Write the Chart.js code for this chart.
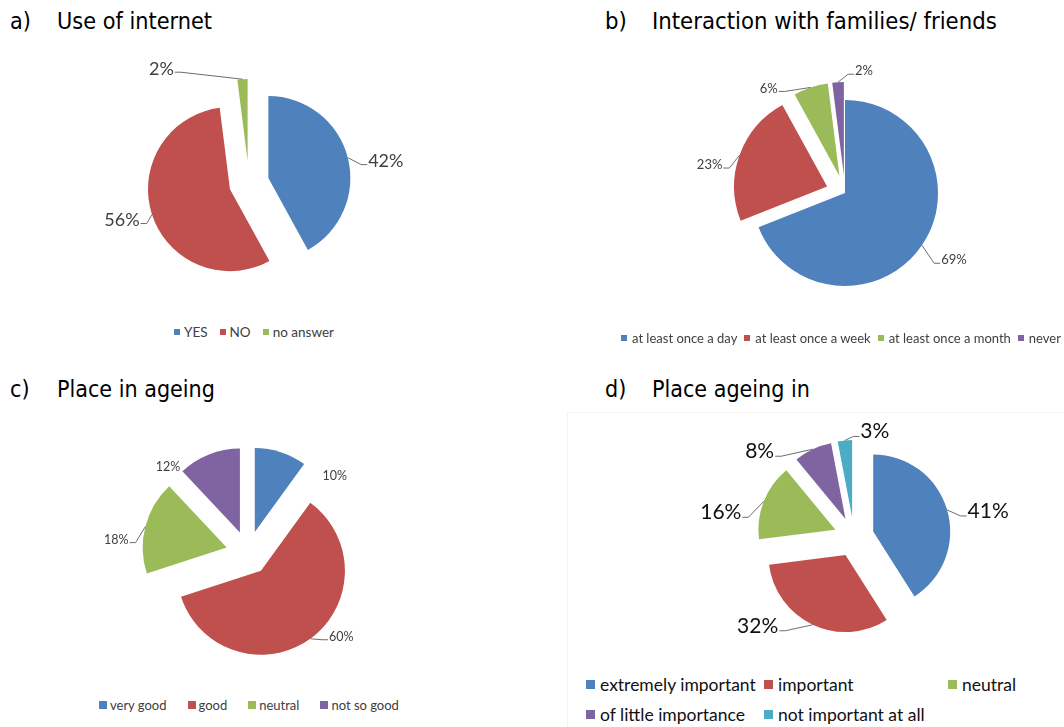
<!DOCTYPE html>
<html>
<head>
<meta charset="utf-8">
<script src="https://cdn.jsdelivr.net/npm/chart.js@4.4.1/dist/chart.umd.min.js"></script>
<style>
  body { margin: 0; background: #fff; }
  #page { position: relative; width: 1064px; height: 727px; overflow: hidden; background: #fff; }
  .title { position: absolute; font-family: "DejaVu Sans Condensed", "DejaVu Sans", sans-serif; font-size: 21px; line-height: 28px; color: #000; white-space: nowrap; }
  .title b { font-weight: normal; position: absolute; left: 0; }
  .title span { position: absolute; left: 47px; }
  .chart { position: absolute; }
  .legend { position: absolute; display: flex; align-items: center; white-space: nowrap; font-family: Lato, sans-serif; color: #404040; }
  .legend .item { display: flex; align-items: center; }
  .legend .sw { display: inline-block; }
  #frame { position: absolute; left: 567px; top: 412px; width: 600px; height: 400px; border: 1px solid #f4f4f4; }
</style>
</head>
<body>
<div id="page">
  <div class="title" data-w="155" style="left:10px;top:6.5px"><b>a)</b><span>Use of internet</span></div>
  <div class="title" data-w="345" style="left:605px;top:6.5px"><b>b)</b><span>Interaction with families/ friends</span></div>
  <div class="title" data-w="158" style="left:10px;top:374.5px"><b>c)</b><span>Place in ageing</span></div>
  <div class="title" data-w="158" style="left:605px;top:374.5px"><b>d)</b><span>Place ageing in</span></div>
  <div id="frame"></div>

  <div class="chart" style="left:49px;top:53px;width:400px;height:260px"><canvas id="pieInternet"></canvas></div>
  <div class="chart" style="left:665px;top:53px;width:360px;height:280px"><canvas id="pieContact"></canvas></div>
  <div class="chart" style="left:48px;top:423px;width:400px;height:260px"><canvas id="pieRating"></canvas></div>
  <div class="chart" style="left:654px;top:407px;width:400px;height:260px"><canvas id="pieImportance"></canvas></div>

  <div class="legend" id="legInternet" style="left:174px;top:324px;height:16px;font-size:13.5px"></div>
  <div class="legend" id="legContact" style="left:621px;top:330px;height:16px;font-size:13px"></div>
  <div class="legend" id="legRating" style="left:99px;top:697px;height:16px;font-size:13px"></div>
  <div class="legend" id="legImportance" style="left:586px;top:674px;font-size:17.5px;color:#111;display:grid;grid-template-columns:178px 184px auto;row-gap:9px"></div>
</div>

<script>
const palette = ['#4F81BD', '#C0504D', '#9BBB59', '#8064A2', '#4BACC6'];

// a) use of internet
const internetLabels = ['YES', 'NO', 'no answer'];
const internetValues = [42, 56, 2];
// b) interaction with families / friends
const contactLabels = ['at least once a day', 'at least once a week', 'at least once a month', 'never'];
const contactValues = [69, 23, 6, 2];
// c) place in ageing
const ratingLabels = ['very good', 'good', 'neutral', 'not so good'];
const ratingValues = [10, 60, 18, 12];
// d) place ageing in
const importanceLabels = ['extremely important', 'important', 'neutral', 'of little importance', 'not important at all'];
const importanceValues = [41, 32, 16, 8, 3];

// headings: scale the font so each line keeps its set width
document.querySelectorAll('.title').forEach(t => {
  const w = t.querySelector('span').getBoundingClientRect().width;
  t.style.fontSize = (21 * (+t.dataset.w) / w) + 'px';
});

// pulls each slice out from the centre along its middle angle
const explodePlugin = {
  id: 'explode',
  beforeDatasetDraw(chart, args, opts) {
    const ctx = chart.ctx;
    const dist = opts.distances || [];
    args.meta.data.forEach((arc, i) => {
      const mid = (arc.startAngle + arc.endAngle) / 2;
      const d = dist[i] || 0;
      ctx.save();
      ctx.translate(Math.cos(mid) * d, Math.sin(mid) * d);
      arc.draw(ctx);
      ctx.restore();
    });
    return false;
  }
};

// percentage labels outside the slices, with small leader lines
const sliceLabelPlugin = {
  id: 'sliceLabels',
  afterDatasetsDraw(chart, args, opts) {
    const ctx = chart.ctx;
    const meta = chart.getDatasetMeta(0);
    const values = chart.data.datasets[0].data;
    const dist = chart.options.plugins.explode.distances || [];
    ctx.save();
    ctx.font = opts.font;
    ctx.textAlign = 'center';
    ctx.textBaseline = 'middle';
    meta.data.forEach((arc, i) => {
      const mid = (arc.startAngle + arc.endAngle) / 2;
      const r = arc.outerRadius + (dist[i] || 0);
      const ax = arc.x + Math.cos(mid) * r;
      const ay = arc.y + Math.sin(mid) * r;
      const [dx, dy] = opts.offsets[i];
      const lx = ax + dx, ly = ay + dy;
      const text = values[i] + '%';
      const w = ctx.measureText(text).width;
      if (opts.leaders[i]) {
        const side = dx > 0 ? -1 : 1;
        const ex = lx + side * (w / 2 + 1);
        const ey = ly + opts.leaderDrop;
        ctx.strokeStyle = opts.lineColor;
        ctx.lineWidth = 1;
        ctx.beginPath();
        ctx.moveTo(ax, ay);
        ctx.lineTo(ex + side * 6, ey);
        ctx.lineTo(ex, ey);
        ctx.stroke();
      }
      ctx.fillStyle = opts.color;
      ctx.fillText(text, lx, ly);
    });
    ctx.restore();
  }
};

function makePie(id, labels, values, cfg) {
  return new Chart(document.getElementById(id), {
    type: 'pie',
    data: {
      labels: labels,
      datasets: [{
        data: values,
        backgroundColor: palette.slice(0, values.length),
        borderWidth: 0,
        radius: cfg.radius
      }]
    },
    options: {
      responsive: true,
      maintainAspectRatio: false,
      animation: false,
      events: [],
      layout: { padding: 0 },
      plugins: {
        legend: { display: false },
        tooltip: { enabled: false },
        explode: { distances: cfg.explode },
        sliceLabels: {
          offsets: cfg.labelPos,
          leaders: cfg.leaders,
          font: cfg.font,
          color: cfg.color || '#404040',
          lineColor: cfg.lineColor || '#6d6d6d',
          leaderDrop: cfg.leaderDrop || 3
        }
      }
    },
    plugins: [explodePlugin, sliceLabelPlugin]
  });
}

function buildLegend(id, labels, box, gap, space) {
  const el = document.getElementById(id);
  labels.forEach((label, i) => {
    const item = document.createElement('span');
    item.className = 'item';
    if (space) item.style.marginRight = space + 'px';
    const sw = document.createElement('span');
    sw.className = 'sw';
    sw.style.width = box + 'px';
    sw.style.height = box + 'px';
    sw.style.background = palette[i];
    sw.style.marginRight = gap + 'px';
    item.appendChild(sw);
    item.appendChild(document.createTextNode(label));
    el.appendChild(item);
  });
}

makePie('pieInternet', internetLabels, internetValues, {
  radius: 82,
  explode: [20, 20, 22],
  labelPos: [[38, 4], [-30, 6], [-81, -10]],
  leaders: [true, true, true],
  font: '18px Lato'
});

makePie('pieContact', contactLabels, contactValues, {
  radius: 93,
  explode: [0, 19, 18, 18],
  labelPos: [[32, 15], [-30, 10], [-42, 1], [26, -11]],
  leaders: [true, true, true, true],
  font: '13px Lato'
});

makePie('pieRating', ratingLabels, ratingValues, {
  radius: 84,
  explode: [22, 22, 22, 22],
  labelPos: [[54, 24], [31, -2], [-29, 13], [-41, 13]],
  leaders: [false, true, true, false],
  font: '12.5px Lato'
});

makePie('pieImportance', importanceLabels, importanceValues, {
  radius: 77,
  explode: [20, 20, 20, 20, 20],
  labelPos: [[41, 1], [-55, 1], [-43, 11], [-53, 2], [30, -9]],
  leaders: [true, true, true, true, true],
  font: '21px Lato',
  color: '#111',
  leaderDrop: 5
});

buildLegend('legInternet', internetLabels, 6, 4, 12);
buildLegend('legContact', contactLabels, 6, 5, 7);
buildLegend('legRating', ratingLabels, 8, 3, 21);
buildLegend('legImportance', importanceLabels, 9, 5, 0);
</script>
</body>
</html>
